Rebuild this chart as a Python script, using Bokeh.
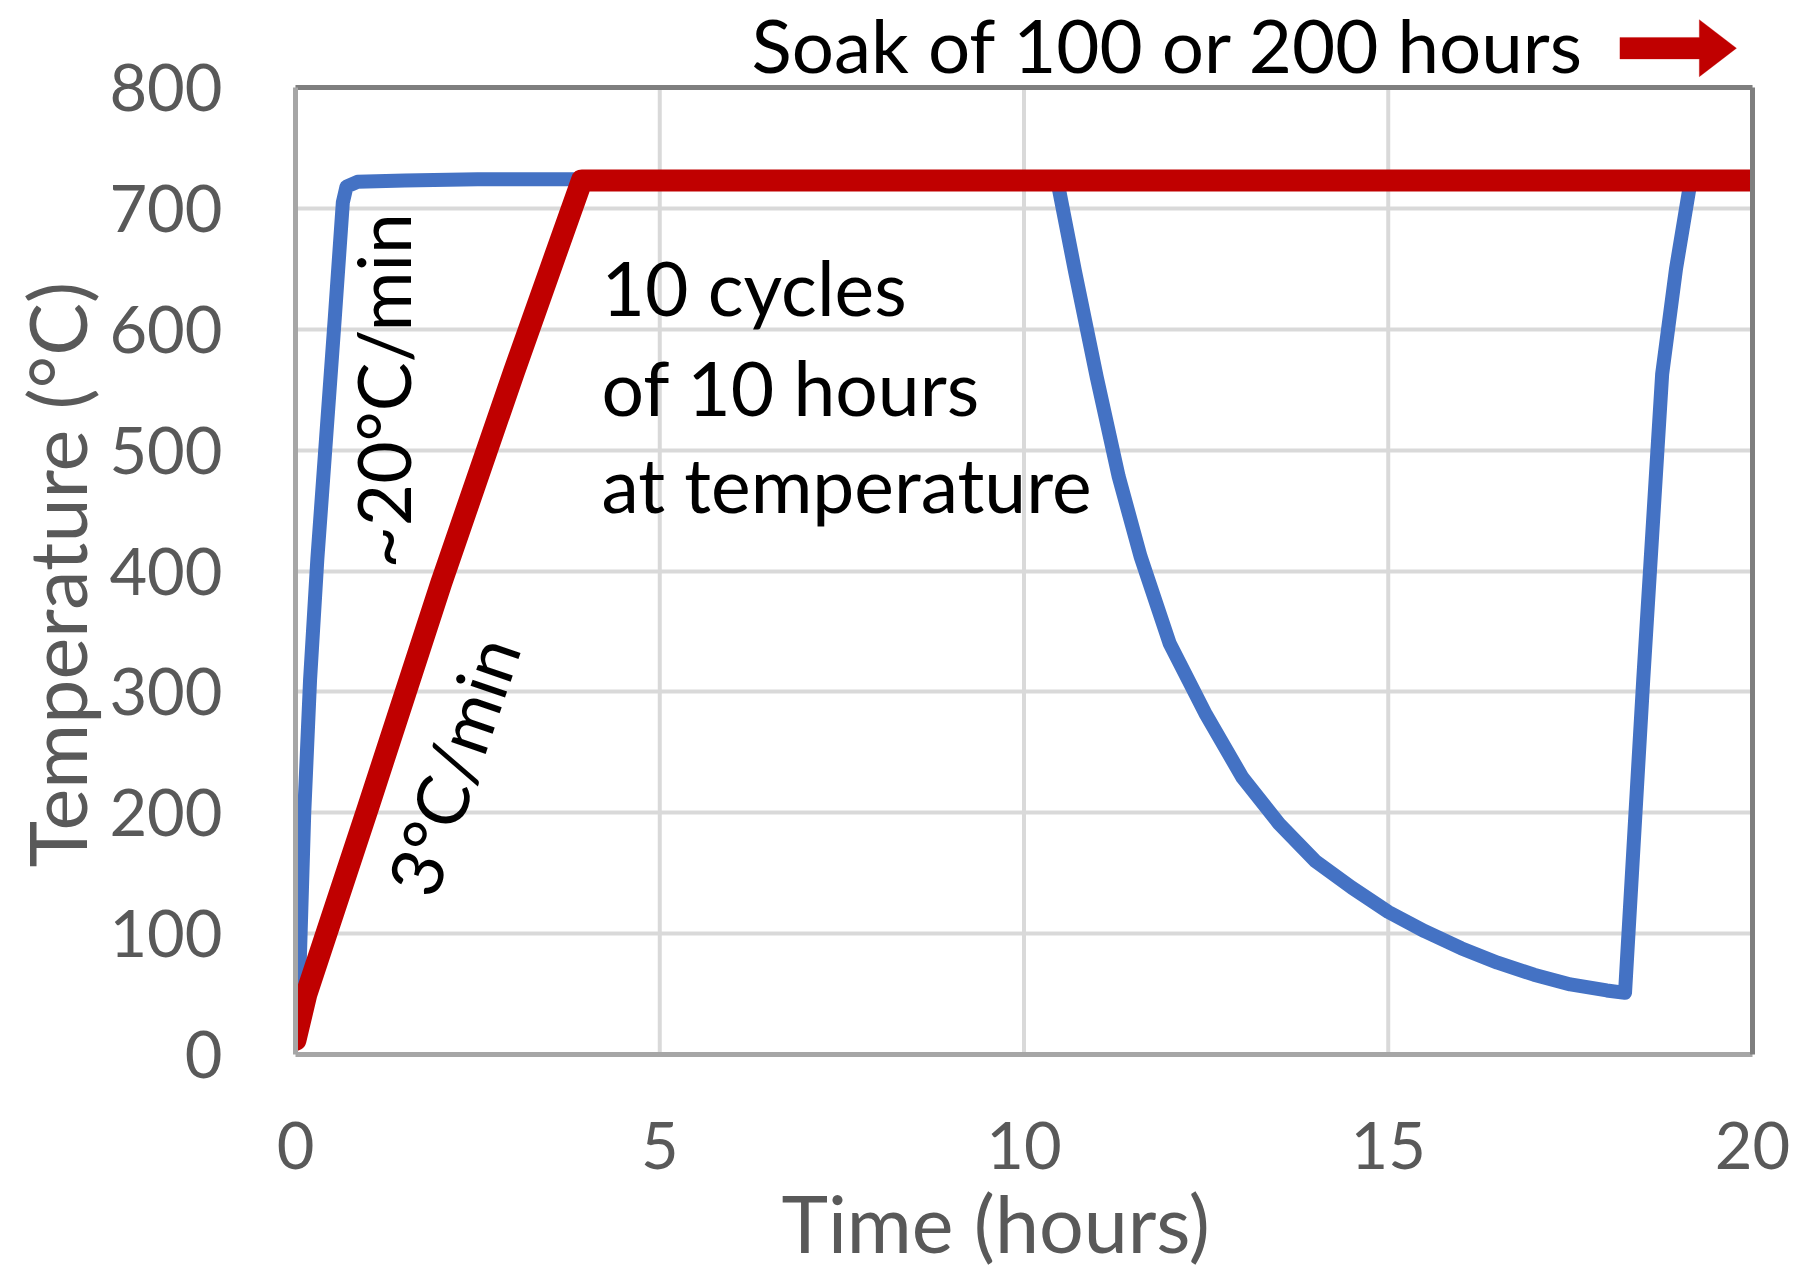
import math
from bokeh.plotting import figure
from bokeh.models import Range1d, FixedTicker, Label, PolyAnnotation, LinearAxis, Title
from bokeh.embed import file_html
from bokeh.resources import INLINE

# ---- data ----
# fast cycle (~20 C/min), 10 h cycles
time_fast = [0.0, 0.05, 0.12, 0.20, 0.30, 0.42, 0.54, 0.65, 0.70, 0.85,
             1.5, 2.5, 3.5, 4.5, 6.0, 8.0, 10.2,
             10.46, 10.7, 11.0, 11.3, 11.6, 12.0, 12.5, 13.0, 13.5, 14.0,
             14.5, 15.0, 15.5, 16.0, 16.5, 17.0, 17.5, 18.0, 18.25,
             18.5, 18.76, 18.95, 19.16, 19.4]
temp_fast = [20, 60, 200, 310, 410, 510, 610, 705, 718, 722,
             723, 724, 724, 724, 724, 724, 724,
             722, 648, 560, 478, 412, 340, 281, 229, 191, 160,
             138, 118, 102, 88, 76, 66, 58, 53, 51,
             310, 563, 650, 726, 724]

# slow ramp (3 C/min) then soak
time_slow = [0.0, 0.15, 1.0, 2.0, 3.0, 3.5, 3.93, 20.0]
temp_slow = [12, 50, 205, 390, 565, 650, 723, 723]

x_ticks = [0, 5, 10, 15, 20]
y_ticks = [0, 100, 200, 300, 400, 500, 600, 700, 800]

x_title = "Time (hours)"
y_title = "Temperature (°C)"

FONT = "Lato"
GREY_TXT = "#595959"
DARK_EDGE = "#7f7f7f"
LIGHT_EDGE = "#a6a6a6"
GRID = "#d9d9d9"

W, H = 1800, 1278
FRAME_L, FRAME_R, FRAME_T, FRAME_B = 295, 1752, 87, 1054
y_top = y_ticks[-1] * FRAME_B / (FRAME_B - FRAME_T)   # frame reaches canvas top

p = figure(width=W, height=H,
           x_range=Range1d(x_ticks[0], x_ticks[-1]), y_range=Range1d(y_ticks[0], y_top),
           output_backend="svg", toolbar_location=None,
           min_border_left=FRAME_L, min_border_right=W - FRAME_R,
           min_border_top=0, min_border_bottom=H - FRAME_B)

p.background_fill_color = "white"
p.border_fill_color = "white"
p.outline_line_color = None

# grid
p.xgrid.visible = False
p.ygrid.ticker = FixedTicker(ticks=y_ticks)
p.ygrid.grid_line_color = GRID
p.ygrid.grid_line_width = 4
inner_x = x_ticks[1:-1]
p.segment(x0=inner_x, y0=[y_ticks[0]] * len(inner_x), x1=inner_x,
          y1=[y_ticks[-1]] * len(inner_x), line_color=GRID, line_width=4)

# axes
p.xaxis.ticker = FixedTicker(ticks=x_ticks)
p.yaxis.ticker = FixedTicker(ticks=y_ticks)
p.yaxis.bounds = (y_ticks[0], y_ticks[-1])
for ax in (p.xaxis[0], p.yaxis[0]):
    ax.major_tick_line_color = None
    ax.minor_tick_line_color = None
    ax.major_tick_out = 0
    ax.major_tick_in = 0
    ax.axis_line_color = LIGHT_EDGE
    ax.axis_line_width = 5
    ax.major_label_text_font = FONT
    ax.major_label_text_font_size = "65px"
    ax.major_label_text_color = GREY_TXT
p.yaxis.major_label_standoff = 73
p.xaxis.major_label_standoff = 67

# axis titles (as side titles so they can be offset like the original)
p.add_layout(Title(text=y_title, align="left", offset=187, standoff=6,
                   text_font=FONT, text_font_size="79px", text_font_style="normal",
                   text_color=GREY_TXT), "left")
p.add_layout(Title(text=x_title, align="left", offset=486, standoff=2,
                   text_font=FONT, text_font_size="79px", text_font_style="normal",
                   text_color=GREY_TXT), "below")

# right border of the plot area
right_ax = LinearAxis(ticker=FixedTicker(ticks=[]), bounds=(y_ticks[0], y_ticks[-1]),
                      axis_line_color=DARK_EDGE, axis_line_width=5,
                      major_tick_line_color=None, minor_tick_line_color=None,
                      major_label_text_font_size="0px")
p.add_layout(right_ax, "right")

# curves
p.line(time_fast, temp_fast, line_color="#4472C4", line_width=14,
       line_join="round", line_cap="round")
p.line(time_slow, temp_slow, line_color="#C00000", line_width=22,
       line_join="round", line_cap="round")

# top border of the plot area
p.segment(x0=[x_ticks[0]], y0=[y_ticks[-1]], x1=[x_ticks[-1]], y1=[y_ticks[-1]],
          line_color=DARK_EDGE, line_width=5, line_cap="square")

# annotations
def lab(x, y, text, size="75px", angle=0.0, align="left", baseline="alphabetic"):
    p.add_layout(Label(x=x, y=y, text=text, text_font=FONT, text_font_size=size,
                       text_color="black", angle=angle, text_align=align,
                       text_baseline=baseline))

lab(4.20, 635, "10 cycles")
lab(4.20, 552, "of 10 hours")
lab(4.20, 472, "at temperature")
lab(6.26, 836, "Soak of 100 or 200 hours", size="74.5px")
lab(1.20, 549, "~20°C/min", size="73px", angle=math.pi / 2, align="center", baseline="middle")
lab(2.15, 239, "3°C/min", size="72px", angle=math.radians(71), align="center", baseline="middle")

# red arrow next to the soak text
arrow_x = [18.18, 19.27, 19.27, 19.78, 19.27, 19.27, 18.18]
arrow_y = [823.6, 823.6, 808.9, 832.5, 856.1, 841.4, 841.4]
p.add_layout(PolyAnnotation(xs=arrow_x, ys=arrow_y, fill_color="#C00000",
                            fill_alpha=1.0, line_color="#C00000", line_width=1))

open("out.html", "w").write(file_html(p, INLINE))
